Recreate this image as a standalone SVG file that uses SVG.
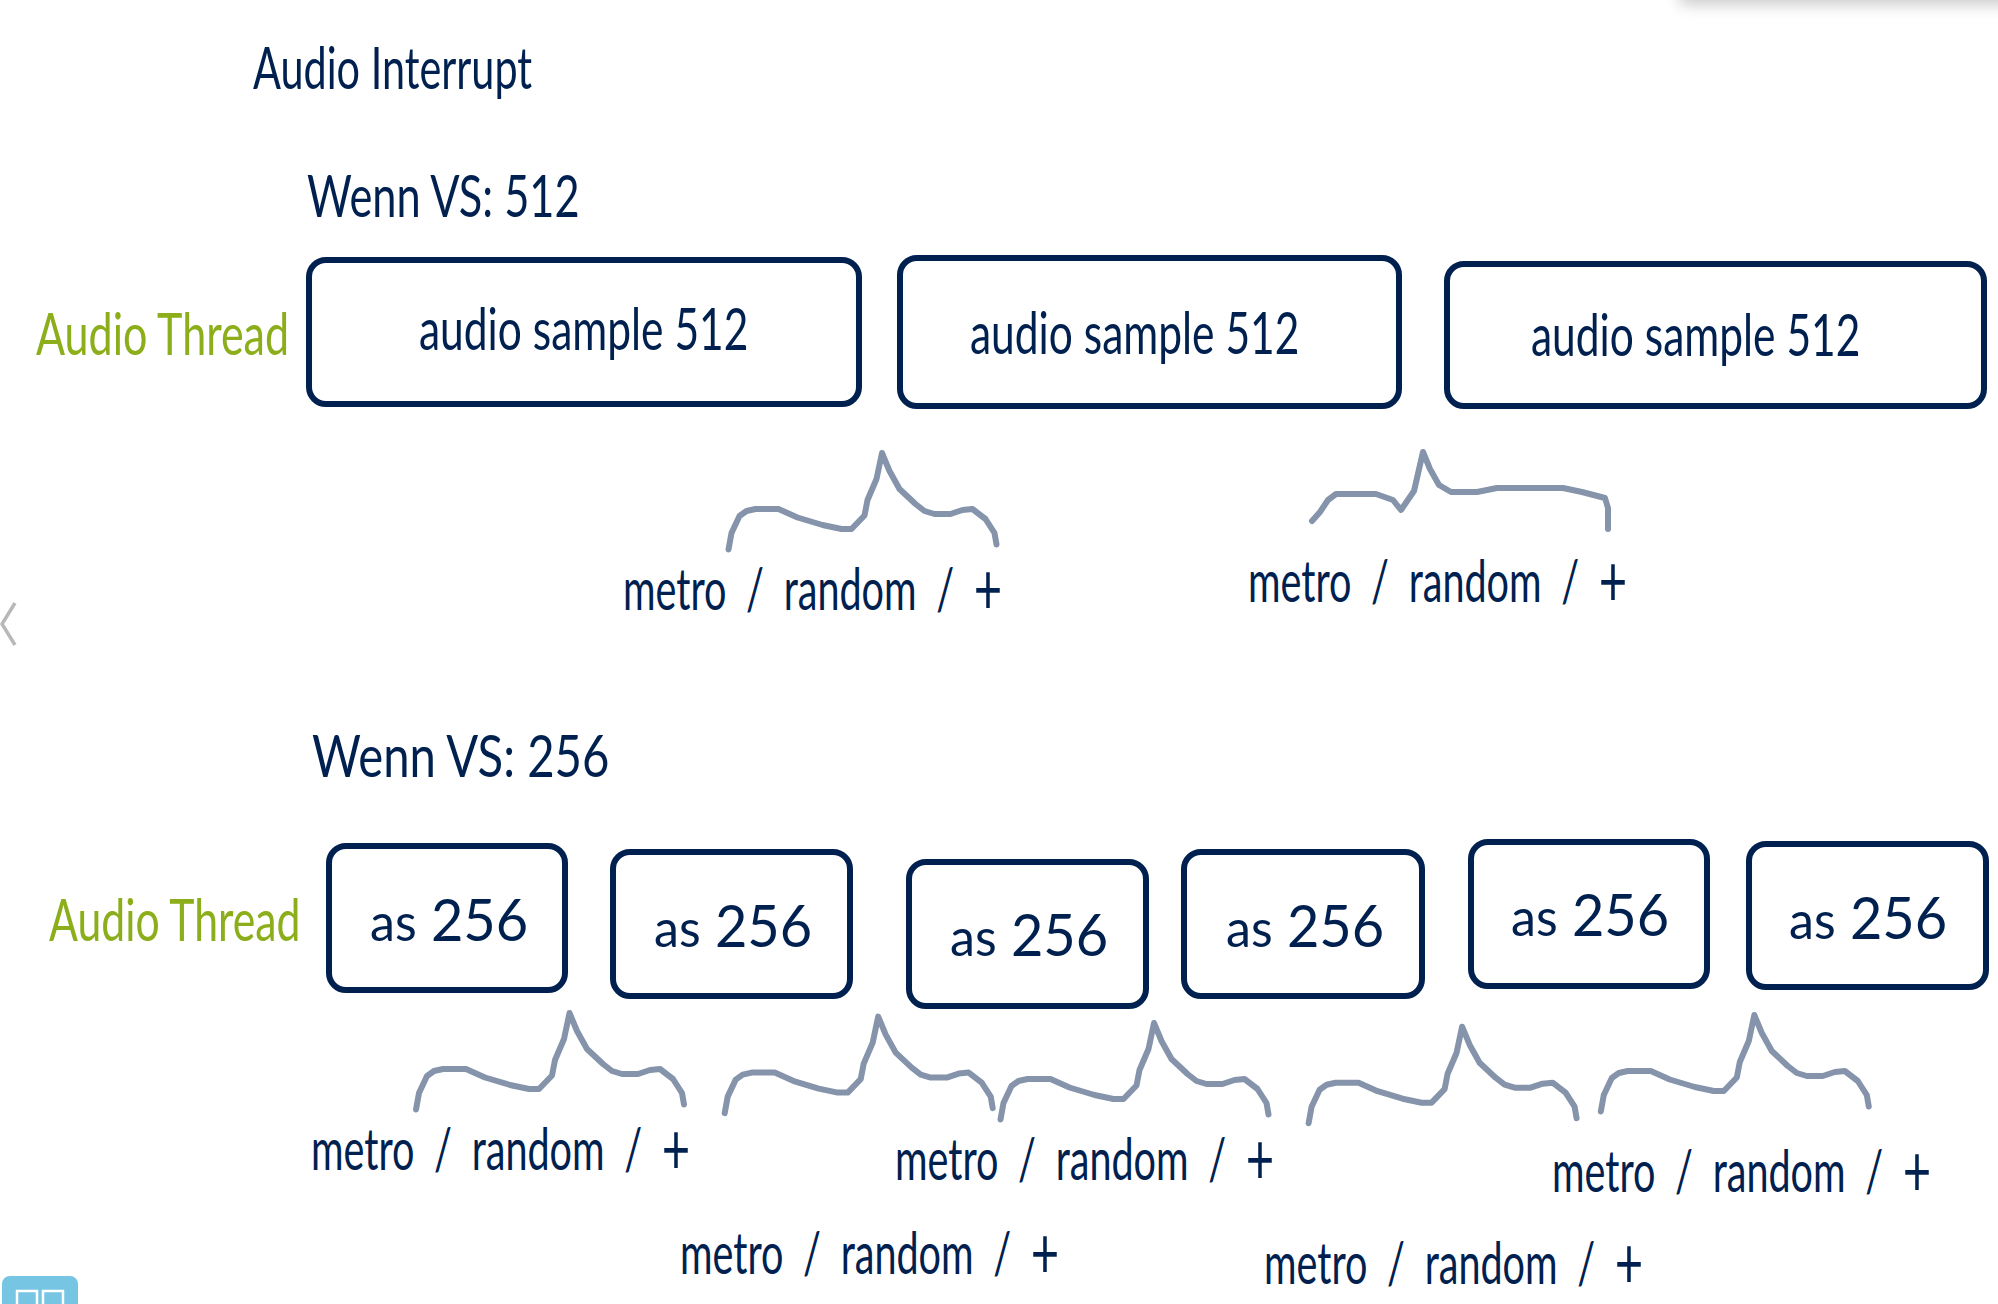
<svg xmlns="http://www.w3.org/2000/svg" xmlns:xlink="http://www.w3.org/1999/xlink" width="1998" height="1304" viewBox="0 0 1998 1304">
<style>
text{font-family:"Lato","Liberation Sans",sans-serif;font-size:58px;fill:#00214f}
.g{fill:#8bae1a}
.lbl{word-spacing:14px}
.small{font-size:52px}
.plus{font-size:72px}
.box{fill:#fff;stroke:#00214f;stroke-width:6}
.brace{fill:none;stroke:#8594ab;stroke-width:6;stroke-linejoin:round;stroke-linecap:round}
.chev{fill:none;stroke:#b8b8b8;stroke-width:3.5}
</style>
<defs>
<filter id="blur" x="-10%" y="-200%" width="120%" height="500%"><feGaussianBlur stdDeviation="8"/></filter>
<polyline id="brace" class="brace" points="416,1109.5 419,1093 427,1076 434,1071 443,1069 466,1069 485,1077.5 510,1085 529,1089 539,1089 552,1075.5 555,1060 564,1039 569.5,1013 577,1031 587,1049 603,1064 612,1071 622,1074 638,1074 650,1070 660,1069 673,1079 682,1093 684,1104.5"/>
</defs>
<rect width="1998" height="1304" fill="#fff"/>
<rect x="1680" y="-20" width="420" height="24" fill="#000" opacity=".22" filter="url(#blur)"/>
<polyline class="chev" points="15,603 2,624 15,645"/>
<polyline class="chev" points="2000,600 2012,624 2000,648" style="stroke:#999"/>
<g id="button">
<path d="M2,1304V1284a8,8 0 0 1 8,-8H70a8,8 0 0 1 8,8V1304Z" fill="#76c5e2"/>
<path d="M17,1304V1291H37V1304M43,1304V1291H63V1304" fill="none" stroke="#fff" stroke-width="2.5"/>
</g>
<g id="title"><text transform="translate(253,89) scale(.713,1)">Audio Interrupt</text></g>
<g id="heading-512"><text transform="translate(307,217) scale(.747,1)">Wenn VS: 512</text></g>
<g id="thread-512"><text class="g" transform="translate(36,355) scale(.742,1)">Audio Thread</text></g>
<g id="sample-1"><rect class="box" x="309" y="260" width="550" height="144" rx="17"/><text transform="translate(419,350) scale(.733,1)">audio sample 512</text></g>
<g id="sample-2"><rect class="box" x="900" y="258" width="499" height="148" rx="17"/><text transform="translate(970,354) scale(.733,1)">audio sample 512</text></g>
<g id="sample-3"><rect class="box" x="1447" y="264" width="537" height="142" rx="17"/><text transform="translate(1531,356) scale(.733,1)">audio sample 512</text></g>
<g id="heading-256"><text transform="translate(312,777) scale(.815,1)">Wenn VS: 256</text></g>
<g id="thread-256"><text class="g" transform="translate(49,941) scale(.737,1)">Audio Thread</text></g>
<g id="as-1"><rect class="box" x="329" y="846" width="236" height="144" rx="17"/><text transform="translate(370,941) scale(.964,1)"><tspan class="small">as</tspan> 256</text></g>
<g id="as-2"><rect class="box" x="613" y="852" width="237" height="144" rx="17"/><text transform="translate(654,947) scale(.964,1)"><tspan class="small">as</tspan> 256</text></g>
<g id="as-3"><rect class="box" x="909" y="862" width="237" height="144" rx="17"/><text transform="translate(950,956) scale(.964,1)"><tspan class="small">as</tspan> 256</text></g>
<g id="as-4"><rect class="box" x="1184" y="852" width="238" height="144" rx="17"/><text transform="translate(1226,947) scale(.964,1)"><tspan class="small">as</tspan> 256</text></g>
<g id="as-5"><rect class="box" x="1471" y="842" width="236" height="144" rx="17"/><text transform="translate(1511,936) scale(.964,1)"><tspan class="small">as</tspan> 256</text></g>
<g id="as-6"><rect class="box" x="1749" y="844" width="237" height="143" rx="17"/><text transform="translate(1789,939) scale(.964,1)"><tspan class="small">as</tspan> 256</text></g>
<g id="connectors">
<use xlink:href="#brace" href="#brace" x="312.5" y="-560"/>
<polyline class="brace" points="1312,521 1320,512 1328,500 1336,494 1376,494 1393,500 1401,510 1414,491 1423,452 1430,469 1439,485 1451,492 1477,492 1497,488 1563,488 1582,492 1605,498 1608,508 1608,529"/>
<use xlink:href="#brace" href="#brace"/>
<use xlink:href="#brace" href="#brace" x="308.7" y="3.6"/>
<use xlink:href="#brace" href="#brace" x="584.5" y="10"/>
<use xlink:href="#brace" href="#brace" x="892.6" y="13.7"/>
<use xlink:href="#brace" href="#brace" x="1184.8" y="2"/>
</g>
<g id="label-1"><text class="lbl" transform="translate(623,610) scale(.682,1)">metro / random / <tspan class="plus" dy="4">+</tspan></text></g>
<g id="label-2"><text class="lbl" transform="translate(1248,602) scale(.682,1)">metro / random / <tspan class="plus" dy="4">+</tspan></text></g>
<g id="label-3"><text class="lbl" transform="translate(311,1170) scale(.682,1)">metro / random / <tspan class="plus" dy="4">+</tspan></text></g>
<g id="label-4"><text class="lbl" transform="translate(895,1180) scale(.682,1)">metro / random / <tspan class="plus" dy="4">+</tspan></text></g>
<g id="label-5"><text class="lbl" transform="translate(680,1274) scale(.682,1)">metro / random / <tspan class="plus" dy="4">+</tspan></text></g>
<g id="label-6"><text class="lbl" transform="translate(1264,1284) scale(.682,1)">metro / random / <tspan class="plus" dy="4">+</tspan></text></g>
<g id="label-7"><text class="lbl" transform="translate(1552,1192) scale(.682,1)">metro / random / <tspan class="plus" dy="4">+</tspan></text></g>
</svg>
